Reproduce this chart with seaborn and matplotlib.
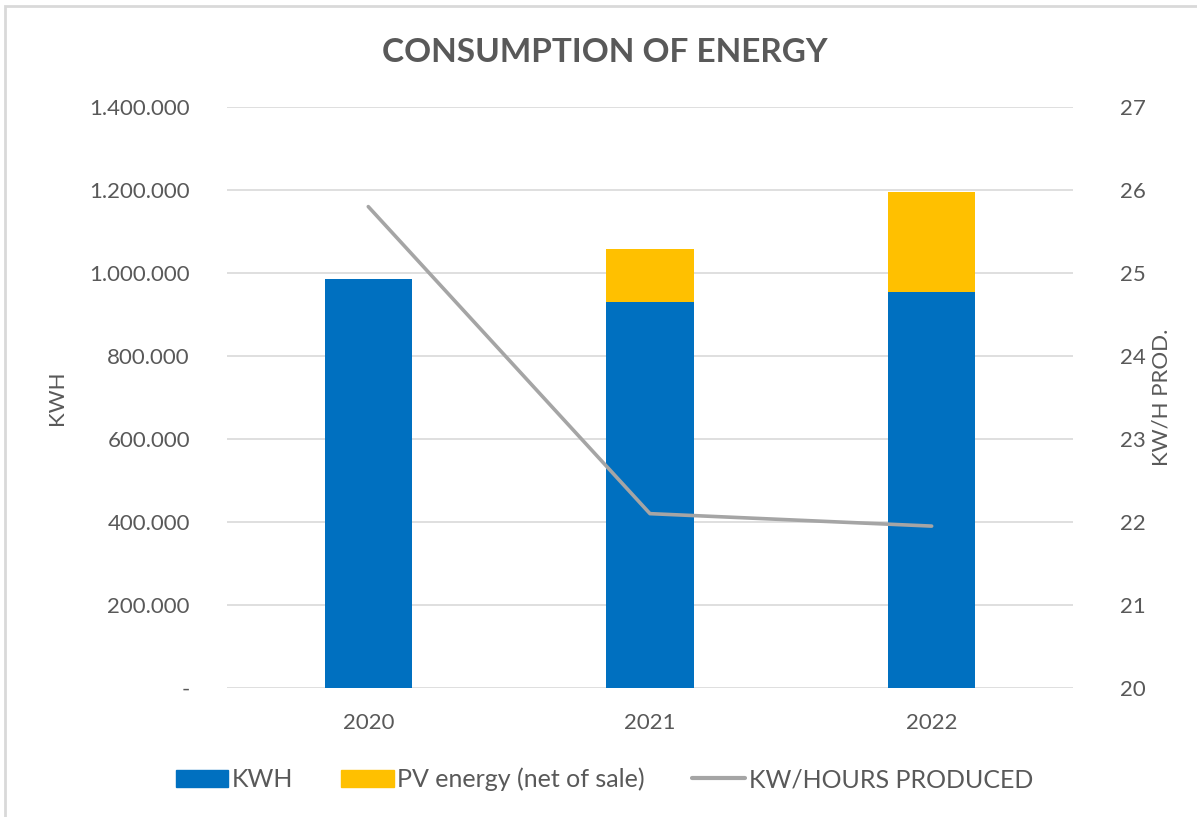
import matplotlib.pyplot as plt
import matplotlib.ticker as mticker
from matplotlib.patches import Patch, Rectangle
from matplotlib.lines import Line2D
import pandas as pd
import seaborn as sns

years = ['2020', '2021', '2022']
kwh = [985000, 931000, 955000]
pv_energy = [0, 126000, 241000]
kwh_per_hour = [25.80, 22.10, 21.95]

BLUE = '#0070C0'
GOLD = '#FFC000'
GREY = '#A5A5A5'
TEXT = '#595959'

sns.set_theme(style='white')
plt.rcParams['font.family'] = ['Lato', 'DejaVu Sans']

df = pd.DataFrame({'year': years, 'kwh': kwh, 'pv': pv_energy, 'rate': kwh_per_hour})
df['total'] = df['kwh'] + df['pv']
df['pos'] = range(len(df))

fig = plt.figure(figsize=(11.97, 8.17), dpi=100)
# thin light frame round the chart (visible on left and top)
fig.add_artist(Rectangle((5 / 1197, -0.01), 1.1, 1.01 - 6 / 817, transform=fig.transFigure,
                         fill=False, edgecolor='#D9D9D9', lw=2))
ax = fig.add_axes([0.19, 0.158, 0.706, 0.711])

# stacked bars: total in gold, then consumption in blue over it
sns.barplot(data=df, x='year', y='total', color=GOLD, width=0.31, saturation=1,
            linewidth=0, ax=ax, zorder=2)
sns.barplot(data=df, x='year', y='kwh', color=BLUE, width=0.31, saturation=1,
            linewidth=0, ax=ax, zorder=3)

ax.set_ylim(0, 1400000)
ax.set_xlim(-0.5, 2.5)
ax.yaxis.set_major_locator(mticker.MultipleLocator(200000))
ax.yaxis.set_major_formatter(mticker.FuncFormatter(
    lambda v, _: '-' if v == 0 else f'{v:,.0f}'.replace(',', '.')))
ax.grid(axis='y', color='#D9D9D9', lw=1.2, zorder=0)
ax.set_axisbelow(True)
ax.set_xlabel('')
ax.set_ylabel('KWH', fontsize=16, color=TEXT, labelpad=16)
ax.tick_params(axis='both', length=0, labelsize=16, labelcolor=TEXT)
ax.tick_params(axis='y', pad=27)
ax.tick_params(axis='x', pad=18)

ax2 = ax.twinx()
sns.lineplot(data=df, x='pos', y='rate', color=GREY, lw=2.6, ax=ax2, zorder=4)
ax2.set_ylim(20, 27)
ax2.yaxis.set_major_locator(mticker.MultipleLocator(1))
ax2.set_ylabel('KW/H PROD.', fontsize=16, color=TEXT, labelpad=4)
ax2.tick_params(axis='y', length=0, labelsize=16, labelcolor=TEXT, pad=34)
ax2.set_xlim(-0.5, 2.5)

for a in (ax, ax2):
    for s in a.spines.values():
        s.set_visible(False)

fig.text(0.505, 0.936, 'CONSUMPTION OF ENERGY', fontsize=24, fontweight='bold',
         color=TEXT, ha='center', va='center')

handles = [Patch(color=BLUE, label='KWH'),
           Patch(color=GOLD, label='PV energy (net of sale)'),
           Line2D([], [], color=GREY, lw=3, label='KW/HOURS PRODUCED')]
fig.legend(handles=handles, loc='center', bbox_to_anchor=(0.505, 0.046), ncol=3,
           frameon=False, fontsize=18, labelcolor=TEXT, handlelength=2.1,
           handleheight=0.72, handletextpad=0.15, columnspacing=1.9)

fig.savefig('out.png', dpi=100)
